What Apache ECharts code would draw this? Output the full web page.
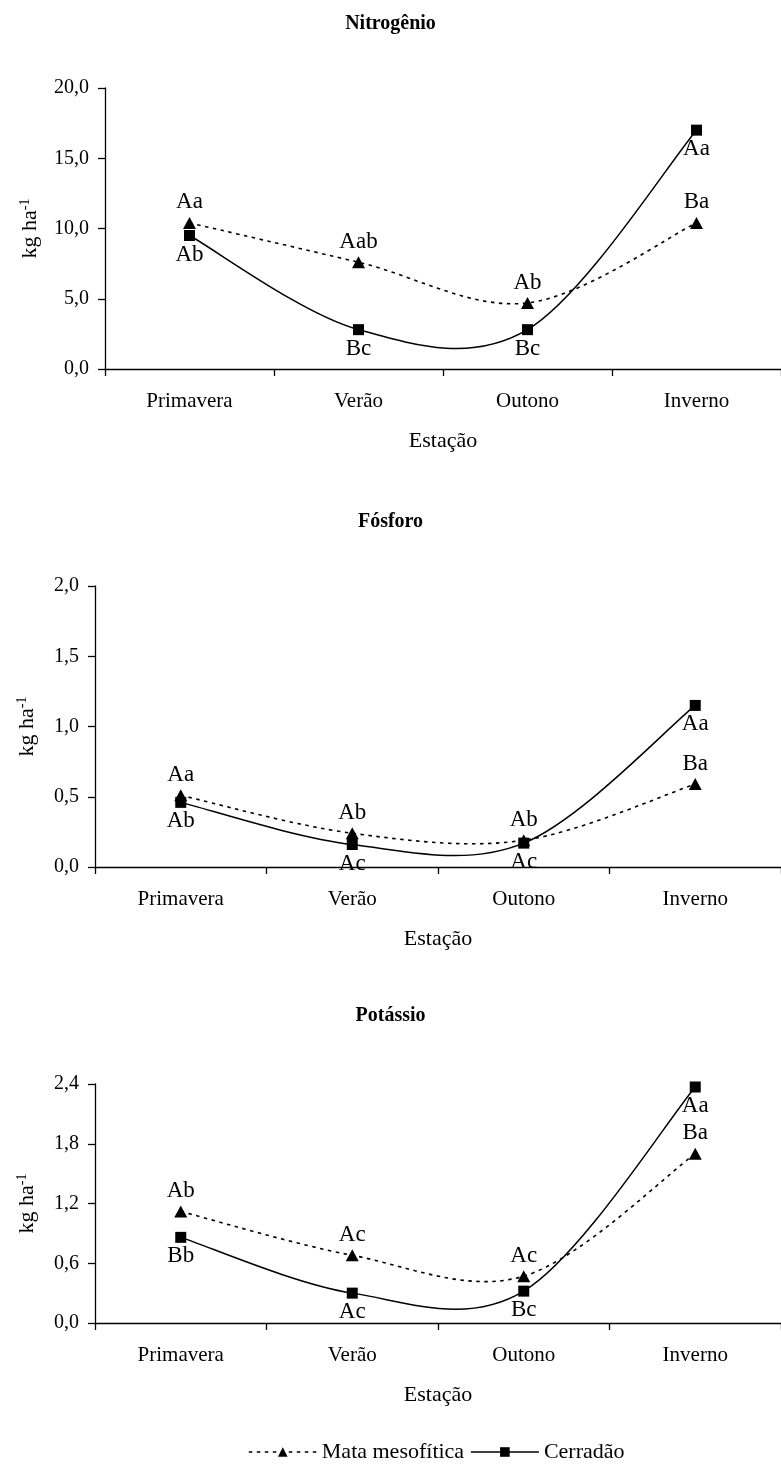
<!DOCTYPE html>
<html><head><meta charset="utf-8">
<script src="https://cdn.jsdelivr.net/npm/echarts@6/dist/echarts.min.js"></script>
<style>html,body{margin:0;padding:0;background:#fff}#c{width:781px;height:1464px}</style>
</head><body><div id="c"></div>
<script>
// ---- data ----
const seasons = ['Primavera', 'Verão', 'Outono', 'Inverno'];
const titles = ['Nitrogênio', 'Fósforo', 'Potássio'];
const seriesNames = ['Mata mesofítica', 'Cerradão'];

const nitroMata = [10.4, 7.6, 4.7, 10.4];
const nitroCerradao = [9.5, 2.8, 2.8, 17.0];
const fosMata = [0.51, 0.24, 0.19, 0.59];
const fosCerradao = [0.46, 0.16, 0.17, 1.15];
const potMata = [1.12, 0.68, 0.47, 1.70];
const potCerradao = [0.86, 0.30, 0.32, 2.37];

const nitroMataLbl = ['Aa', 'Aab', 'Ab', 'Ba'];
const nitroCerrLbl = ['Ab', 'Bc', 'Bc', 'Aa'];
const fosMataLbl = ['Aa', 'Ab', 'Ab', 'Ba'];
const fosCerrLbl = ['Ab', 'Ac', 'Ac', 'Aa'];
const potMataLbl = ['Ab', 'Ac', 'Ac', 'Ba'];
const potCerrLbl = ['Bb', 'Ac', 'Bc', 'Aa'];

const yMaxes = [20, 2, 2.4];
const yIntervals = [5, 0.5, 0.6];
const yAxisName = 'kg ha';
const yAxisSup = '-1';
const xAxisName = 'Estação';

// ---- build ----
const FF = 'Liberation Serif';
const panels = [
  { mata: nitroMata, cerr: nitroCerradao, ml: nitroMataLbl, cl: nitroCerrLbl },
  { mata: fosMata, cerr: fosCerradao, ml: fosMataLbl, cl: fosCerrLbl },
  { mata: potMata, cerr: potCerradao, ml: potMataLbl, cl: potCerrLbl }
];
const grids = [
  { left: 105, top: 88, width: 676, height: 281 },
  { left: 95, top: 586, width: 686, height: 281 },
  { left: 95, top: 1084, width: 686, height: 239 }
];
const titleTops = [14, 512, 1006];
const yNameGaps = [63, 56, 56];

function smoothPath(pts) {
  let d = 'M' + pts[0][0] + ',' + pts[0][1];
  for (let i = 0; i < pts.length - 1; i++) {
    const p0 = pts[i - 1] || pts[i], p1 = pts[i], p2 = pts[i + 1], p3 = pts[i + 2] || pts[i + 1];
    const c1x = p1[0] + (p2[0] - p0[0]) / 6, c1y = p1[1] + (p2[1] - p0[1]) / 6;
    const c2x = p2[0] - (p3[0] - p1[0]) / 6, c2y = p2[1] - (p3[1] - p1[1]) / 6;
    d += ' C' + c1x + ',' + c1y + ' ' + c2x + ',' + c2y + ' ' + p2[0] + ',' + p2[1];
  }
  return d;
}

function curveSeries(k, values, dashed) {
  return {
    type: 'custom', xAxisIndex: k, yAxisIndex: k, silent: true, z: 1,
    data: [[0, values[0]]],
    renderItem: function (params, api) {
      const pts = values.map((v, i) => api.coord([i, v]));
      return {
        type: 'path',
        shape: { pathData: smoothPath(pts) },
        style: { fill: null, stroke: '#000', lineWidth: dashed ? 1.6 : 1.5, lineDash: dashed ? [3.5, 4.5] : null }
      };
    }
  };
}

function pointSeries(k, name, values, labels, isMata) {
  return {
    type: 'line', name: name, xAxisIndex: k, yAxisIndex: k, z: 3,
    data: values,
    symbol: isMata ? 'triangle' : 'rect',
    symbolSize: isMata ? [13, 12] : [11, 11],
    showAllSymbol: true,
    lineStyle: { opacity: 0 },
    itemStyle: { color: '#000' },
    emphasis: { disabled: true },
    animation: false,
    label: {
      show: true,
      position: isMata ? 'top' : 'bottom',
      distance: isMata ? 3 : 2,
      formatter: p => labels[p.dataIndex],
      fontFamily: FF, fontSize: 23, color: '#000'
    }
  };
}

const option = {
  backgroundColor: '#fff',
  animation: false,
  title: titles.map((t, k) => ({
    text: t, left: 'center', top: titleTops[k], padding: 0,
    textStyle: { fontFamily: FF, fontSize: 20, fontWeight: 'bold', color: '#000' }
  })),
  legend: {
    left: 248, top: 1441, padding: 0, itemWidth: 68, itemHeight: 12, itemGap: 6,
    textStyle: { fontFamily: FF, fontSize: 22, color: '#000' },
    data: [
      { name: seriesNames[0], lineStyle: { opacity: 1, color: '#000', width: 1.6, type: [3.5, 4.5] } },
      { name: seriesNames[1], lineStyle: { opacity: 1, color: '#000', width: 1.5, type: 'solid' } }
    ]
  },
  grid: grids.map(g => Object.assign({ containLabel: false }, g)),
  xAxis: grids.map((g, k) => ({
    type: 'category', gridIndex: k, data: seasons, boundaryGap: true,
    axisLine: { show: true, lineStyle: { color: '#000', width: 1.3 } },
    axisTick: { show: true, length: 7, interval: 0, alignWithLabel: false, lineStyle: { color: '#000', width: 1.3 } },
    axisLabel: { interval: 0, fontFamily: FF, fontSize: 21, color: '#000', margin: 22 },
    splitLine: { show: false },
    name: xAxisName, nameLocation: 'middle', nameGap: 61,
    nameTextStyle: { fontFamily: FF, fontSize: 22, color: '#000' }
  })),
  yAxis: grids.map((g, k) => ({
    type: 'value', gridIndex: k, min: 0, max: yMaxes[k], interval: yIntervals[k],
    axisLine: { show: true, lineStyle: { color: '#000', width: 1.3 } },
    axisTick: { show: true, length: 7, lineStyle: { color: '#000', width: 1.3 } },
    splitLine: { show: false },
    axisLabel: { formatter: v => v.toFixed(1).replace('.', ','), fontFamily: FF, fontSize: 20, color: '#000', margin: 16 },
    name: '{n|' + yAxisName + '}{s|' + yAxisSup + '}',
    nameLocation: 'middle', nameGap: yNameGaps[k],
    nameTextStyle: {
      rich: {
        n: { fontFamily: FF, fontSize: 22, color: '#000', lineHeight: 24 },
        s: { fontFamily: FF, fontSize: 14, color: '#000', verticalAlign: 'top', lineHeight: 24 }
      }
    }
  })),
  series: []
};

panels.forEach((p, k) => {
  option.series.push(curveSeries(k, p.mata, true));
  option.series.push(curveSeries(k, p.cerr, false));
  option.series.push(pointSeries(k, seriesNames[0], p.mata, p.ml, true));
  option.series.push(pointSeries(k, seriesNames[1], p.cerr, p.cl, false));
});

const chart = echarts.init(document.getElementById('c'), null, { renderer: 'canvas' });
chart.setOption(option);
</script>
</body></html>
